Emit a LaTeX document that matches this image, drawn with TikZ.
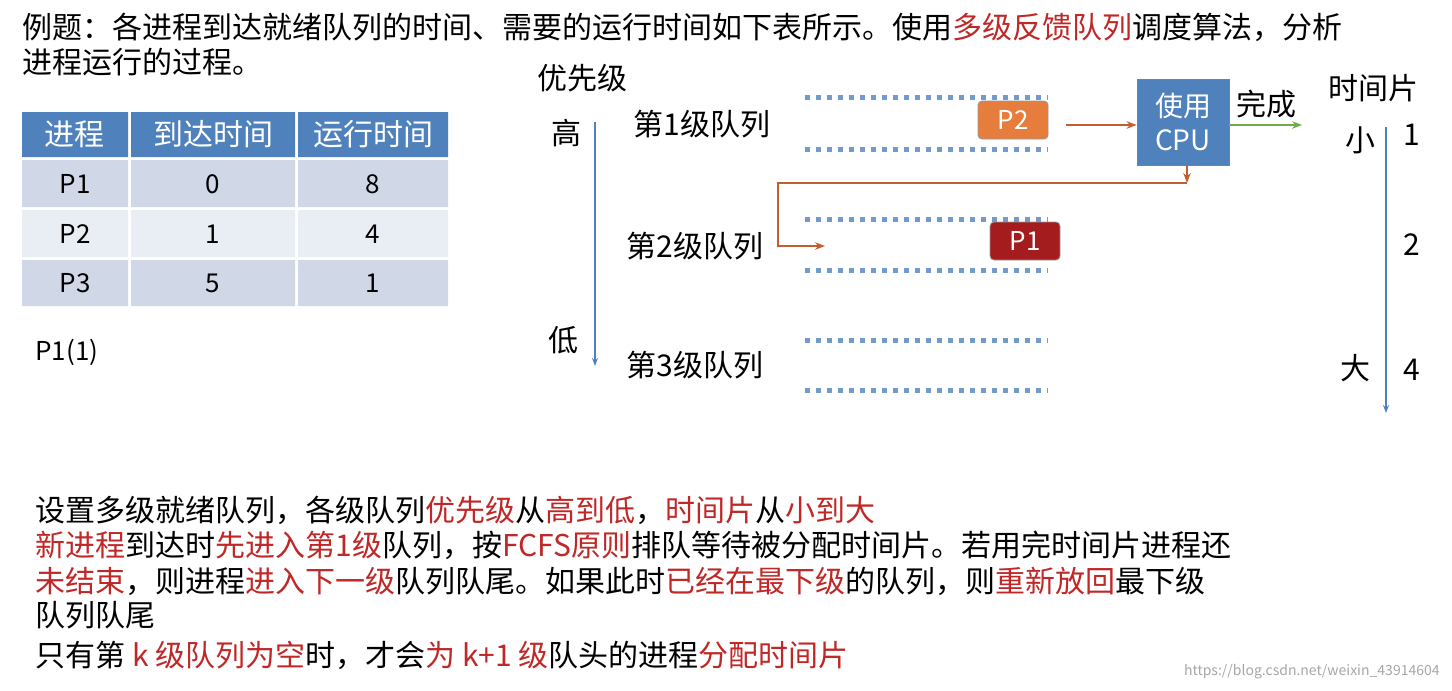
\documentclass[tikz,border=0pt]{standalone}
\usepackage{fontspec}
\setmainfont{Noto Sans CJK SC}
\usetikzlibrary{positioning, arrows.meta}
\definecolor{tblue}{RGB}{79,129,189}
\definecolor{rowA}{RGB}{208,216,232}
\definecolor{rowB}{RGB}{233,237,244}
\definecolor{pred}{RGB}{192,40,40}
\definecolor{porange}{RGB}{230,125,60}
\definecolor{pdark}{RGB}{165,28,30}
\definecolor{brown}{RGB}{195,95,45}
\definecolor{pgreen}{RGB}{112,173,71}
\newcommand{\hl}[1]{\textcolor{pred}{#1}}

\begin{document}
\begin{tikzpicture}[
    x = 0.5pt, y = -0.5pt,
    txt/.style = {inner sep = 0pt, font = \fontsize{15}{17}\selectfont},
    line/.style = {txt, anchor = west},
    cell/.style = {inner sep = 0pt, font = \fontsize{13}{15}\selectfont},
    proc/.style = {draw = black!40, rounded corners = 2pt, text = white, minimum width = 35pt, minimum height = 19pt, inner sep = 0pt, font = \fontsize{13}{15}\selectfont},
    queue/.style = {tblue!80, line width = 2.5pt, dash pattern = on 2.5pt off 3pt},
    axis/.style = {-{Stealth[length = 4pt]}, tblue, thick},
    flow/.style = {-{Stealth[length = 5pt]}, brown, thick},
    ]
    \useasboundingbox (0,0) rectangle (1452,691);

    % title
    \node [line] (title1) at (22,27) {例题：各进程到达就绪队列的时间、需要的运行时间如下表所示。使用\hl{多级反馈队列}调度算法，分析};
    \node [line] (title2) at (22,62) {进程运行的过程。};

    % table
    \fill [tblue] (22,112) rectangle (128,157) (131,112) rectangle (295,157) (298,112) rectangle (448,157);
    \foreach \ya/\yb/\c in {160/207/rowA, 210/257/rowB, 260/306/rowA}
        \fill [\c] (22,\ya) rectangle (128,\yb) (131,\ya) rectangle (295,\yb) (298,\ya) rectangle (448,\yb);
    \node [txt, text = white] (h1) at (75,134) {进程};
    \node [txt, text = white] (h2) at (213,134) {到达时间};
    \node [txt, text = white] (h3) at (373,134) {运行时间};
    \foreach \p/\a/\r/\y in {P1/0/8/184, P2/1/4/234, P3/5/1/283} {
        \node [cell] at (75,\y) {\p};
        \node [cell] at (213,\y) {\a};
        \node [cell] at (373,\y) {\r};
    }
    \node [cell, anchor = west] (done) at (35,352) {P1(1)};

    % priority axis
    \node [txt] (prio) at (582,78) {优先级};
    \node [txt] (high) at (566,133) {高};
    \node [txt] (low) at (563,340) {低};
    \coordinate (pa) at (595,122);
    \coordinate (pb) at (595,366);
    \draw [axis] (pa) -- (pb);

    % queues
    \node [txt] (q1) at (702,124) {第1级队列};
    \node [txt] (q2) at (695,246) {第2级队列};
    \node [txt] (q3) at (695,365) {第3级队列};
    \foreach \y in {97,149,219,270,340,390}
        \draw [queue] (805,\y) -- (1048,\y);
    \node [proc, fill = porange] (p2) at (1013,120) {P2};
    \node [proc, fill = pdark] (p1) at (1025,241) {P1};

    % cpu
    \node [draw = black!50, fill = tblue, text = white, minimum width = 46pt, minimum height = 43pt, inner sep = 0pt, align = center, font = \fontsize{14}{17}\selectfont] (cpu) at (1183,122) {使用\\CPU};
    \coordinate (inq) at (1066,125);
    \draw [flow] (inq) -- (inq -| cpu.west);
    \coordinate (fin) at (1302,125);
    \draw [-{Stealth[length = 5pt]}, pgreen, thick] (cpu.east |- fin) -- (fin);
    \node [txt] (finish) at (1266,104) {完成};
    \coordinate (back) at (1187,183);
    \draw [flow] (cpu.south -| back) -- (back);
    \coordinate (turn) at (778,183);
    \coordinate (in2) at (825,246);
    \draw [flow] (back) -- (turn) |- (in2);

    % time slice axis
    \node [txt] (slice) at (1373,88) {时间片};
    \node [txt] (small) at (1360,140) {小};
    \node [txt] (big) at (1355,368) {大};
    \coordinate (sa) at (1386,127);
    \coordinate (sb) at (1386,413);
    \draw [axis] (sa) -- (sb);
    \node [txt] (s1) at (1412,135) {1};
    \node [txt] (s2) at (1412,245) {2};
    \node [txt] (s4) at (1412,370) {4};

    % notes
    \node [line] (n1) at (35,510) {设置多级就绪队列，各级队列\hl{优先级}从\hl{高到低}，\hl{时间片}从\hl{小到大}};
    \node [line] (n2) at (35,545) {\hl{新进程}到达时\hl{先进入第1级}队列，按\hl{FCFS原则}排队等待被分配时间片。若用完时间片进程还};
    \node [line] (n3) at (35,581) {\hl{未结束}，则进程\hl{进入下一级}队列队尾。如果此时\hl{已经在最下级}的队列，则\hl{重新放回}最下级};
    \node [line] (n4) at (35,615) {队列队尾};
    \node [line] (n5) at (35,655) {只有第 \hl{k 级队列为空}时，才会\hl{为 k+1 级}队头的进程\hl{分配时间片}};
    \node [inner sep = 0pt, anchor = east, text = black!35, font = \fontsize{7}{8}\selectfont] (mark) at (1440,672) {https://blog.csdn.net/weixin\_43914604};
\end{tikzpicture}
\end{document}
